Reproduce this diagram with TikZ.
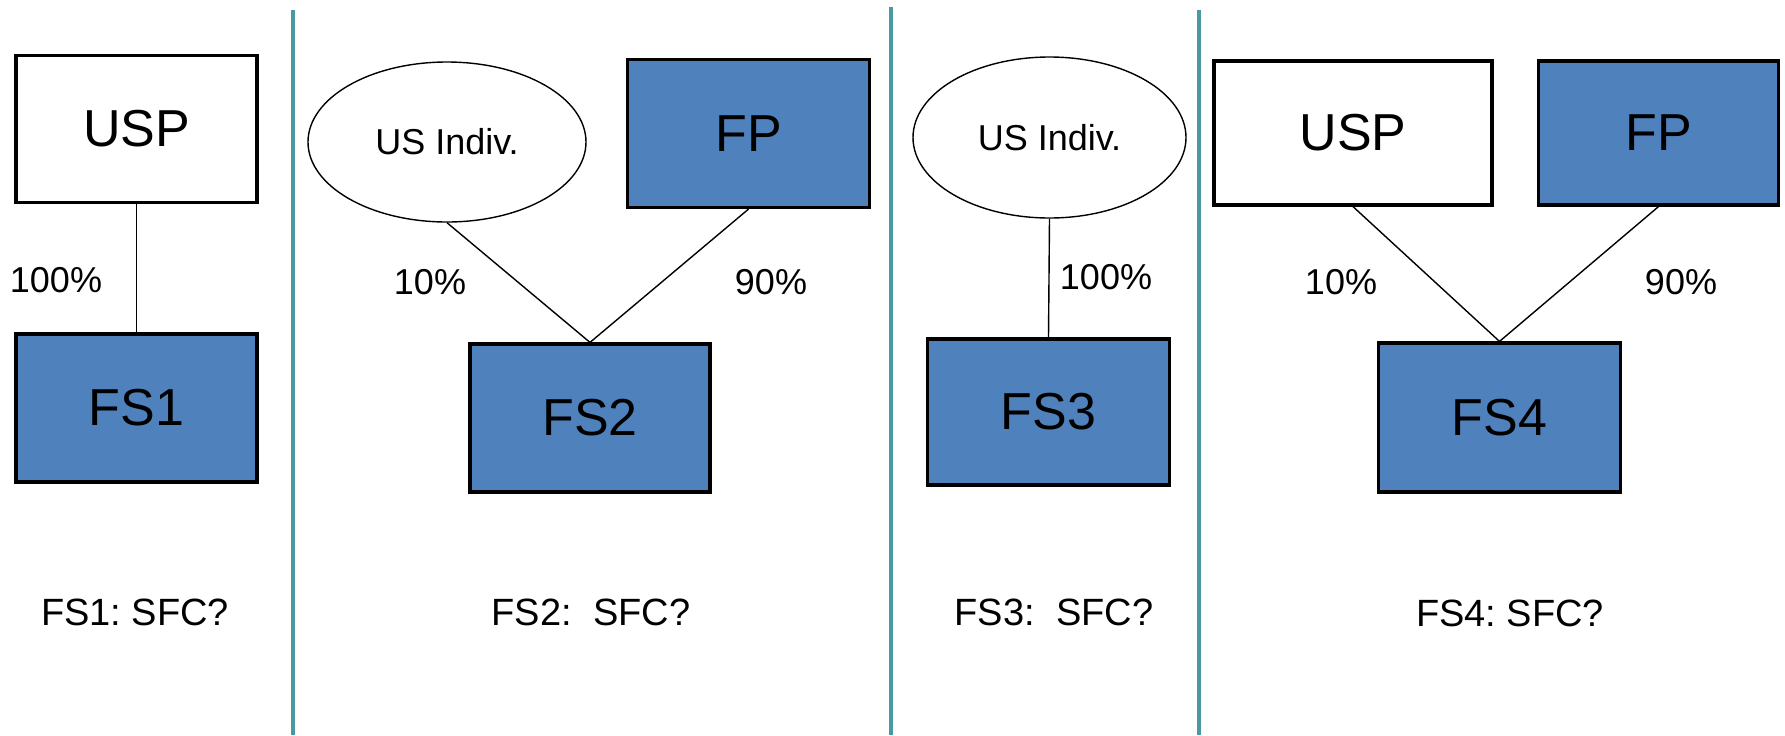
\documentclass[tikz,border=0pt]{standalone}
\usepackage{fontspec}
\setmainfont{Liberation Sans}
\usetikzlibrary{shapes.geometric}
\definecolor{boxblue}{RGB}{79,129,189}
\definecolor{divteal}{RGB}{74,152,160}
\frenchspacing
\tikzset{
  entity/.style={draw=black, line width=1.6pt, rectangle, inner sep=0pt, font=\fontsize{26}{30}\selectfont},
  foreign/.style={entity, fill=boxblue},
  domestic/.style={entity, fill=white},
  person/.style={draw=black, line width=0.7pt, ellipse, inner sep=0pt, fill=white, font=\fontsize{18}{22}\selectfont},
  link/.style={draw=black, line width=0.7pt},
  pct/.style={font=\fontsize{18}{22}\selectfont, inner sep=0pt},
  verdict/.style={font=\fontsize{19}{23}\selectfont, inner sep=0pt},
  divider/.style={draw=divteal, line width=2pt}
}
\begin{document}
\begin{tikzpicture}[x=0.5pt, y=-0.5pt]
\useasboundingbox (0,0) rectangle (1785,735);

% column dividers
\coordinate (d1t) at (293,10);  \coordinate (d1b) at (293,735);
\coordinate (d2t) at (891,7);   \coordinate (d2b) at (891,735);
\coordinate (d3t) at (1199,10); \coordinate (d3b) at (1199,735);
\draw[divider] (d1t) -- (d1b);
\draw[divider] (d2t) -- (d2b);
\draw[divider] (d3t) -- (d3b);

% case 1
\node[domestic, minimum width=120.5pt, minimum height=73.5pt] (usp1) at (136.5,129) {USP};
\node[foreign, minimum width=120.5pt, minimum height=74pt] (fs1) at (136.5,408) {FS1};
\draw[link] (usp1.south) -- (fs1.north);
\node[pct] (p1) at (56,280) {100\%};
\node[verdict] (v1) at (135,612) {FS1: SFC?};

% case 2
\node[person, minimum width=139pt, minimum height=80pt] (ind2) at (447,142) {US Indiv.};
\node[foreign, minimum width=121pt, minimum height=74pt] (fp2) at (748.5,133.5) {FP};
\node[foreign, minimum width=120pt, minimum height=74pt] (fs2) at (590,418) {FS2};
\draw[link] (ind2.south) -- (fs2.north);
\draw[link] (fp2.south) -- (fs2.north);
\node[pct] (p2a) at (430,282) {10\%};
\node[pct] (p2b) at (771,282) {90\%};
\node[verdict] (v2) at (591,612) {FS2:\ \ SFC?};

% case 3
\node[person, minimum width=136.5pt, minimum height=80.5pt] (ind3) at (1049.5,137.5) {US Indiv.};
\node[foreign, minimum width=121pt, minimum height=73pt] (fs3) at (1048.5,412) {FS3};
\draw[link] (ind3.south) -- (fs3.north);
\node[pct] (p3) at (1106,277) {100\%};
\node[verdict] (v3) at (1054,612) {FS3:\ \ SFC?};

% case 4
\node[domestic, minimum width=139pt, minimum height=72pt] (usp4) at (1353,133) {USP};
\node[foreign, minimum width=120pt, minimum height=72pt] (fp4) at (1658.5,133) {FP};
\node[foreign, minimum width=121pt, minimum height=74.5pt] (fs4) at (1499.5,417.5) {FS4};
\draw[link] (usp4.south) -- (fs4.north);
\draw[link] (fp4.south) -- (fs4.north);
\node[pct] (p4a) at (1341,282) {10\%};
\node[pct] (p4b) at (1681,282) {90\%};
\node[verdict] (v4) at (1510,613) {FS4: SFC?};
\end{tikzpicture}
\end{document}
